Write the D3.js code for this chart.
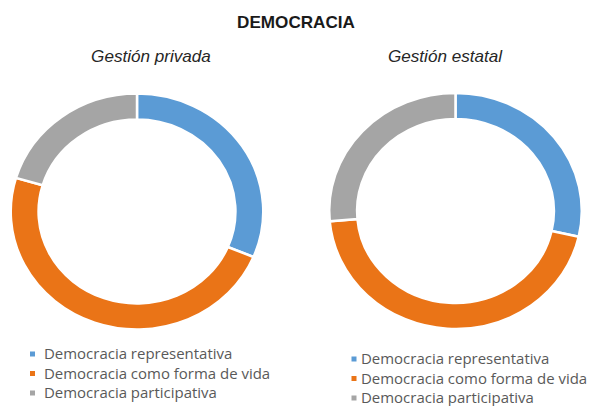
<!DOCTYPE html>
<html lang="es">
<head>
	<meta charset="UTF-8">
	<title>Democracia</title>
	<script src="https://d3js.org/d3.v7.min.js"></script>
	<style>
		body { margin: 0; background: #fff; }
	</style>
</head>
<body>
	<div id="chart"></div>
	<script>
		const categories = ["Democracia representativa", "Democracia como forma de vida", "Democracia participativa"];
		const colors = ["#5B9BD5", "#EA7417", "#A5A5A5"];
		const panels = ["Gestión privada", "Gestión estatal"];
		const privada = [31.3, 48.3, 20.4];
		const estatal = [28.5, 45.1, 26.4];

		const width = 597, height = 406;
		const sx = 1.07; // the source picture is a little stretched sideways

		const svg = d3.select("#chart").append("svg")
			.attr("width", width)
			.attr("height", height);

		svg.append("text")
			.attr("transform", `translate(296,28) scale(${sx},1)`)
			.attr("text-anchor", "middle")
			.style("font-family", "Liberation Sans, Arial, sans-serif")
			.style("font-weight", "bold")
			.style("font-size", "16px")
			.style("fill", "#1a1a1a")
			.text("DEMOCRACIA");

		const color = d3.scaleOrdinal().domain(categories).range(colors);
		const pie = d3.pie().sort(null).value(d => d.value);
		const arc = d3.arc().innerRadius(92).outerRadius(118);

		const layout = [
			{ title: panels[0], values: privada, cx: 137, cy: 211.5, tx: 151, lx: 30, gap: 14, ly: 354 },
			{ title: panels[1], values: estatal, cx: 455.5, cy: 211, tx: 445, lx: 351.5, gap: 9.5, ly: 359 }
		];

		layout.forEach(p => {
			const data = categories.map((c, i) => ({ name: c, value: p.values[i] }));

			svg.append("text")
				.attr("transform", `translate(${p.tx},62) scale(${sx},1)`)
				.attr("text-anchor", "middle")
				.style("font-family", "Liberation Sans, Arial, sans-serif")
				.style("font-style", "italic")
				.style("font-size", "16px")
				.style("fill", "#262626")
				.text(p.title);

			const g = svg.append("g")
				.attr("transform", `translate(${p.cx},${p.cy}) scale(${sx},1)`);

			g.selectAll("path")
				.data(pie(data))
				.enter().append("path")
				.attr("d", arc)
				.attr("fill", d => color(d.data.name))
				.attr("stroke", "#fff")
				.attr("stroke-width", 2.5)
				.attr("vector-effect", "non-scaling-stroke");

			// legend
			const leg = svg.append("g");
			const rows = leg.selectAll("g")
				.data(categories)
				.enter().append("g")
				.attr("transform", (d, i) => `translate(${p.lx},${p.ly + i * 19.5})`);

			rows.append("rect")
				.attr("x", 0)
				.attr("y", -2.5)
				.attr("width", 5)
				.attr("height", 5)
				.attr("fill", d => color(d));

			rows.append("text")
				.attr("transform", `translate(${p.gap},5) scale(${sx},1)`)
				.style("font-family", "Open Sans, sans-serif")
				.style("font-size", "14px")
				.style("fill", "#595959")
				.text(d => d);
		});
	</script>
</body>
</html>
